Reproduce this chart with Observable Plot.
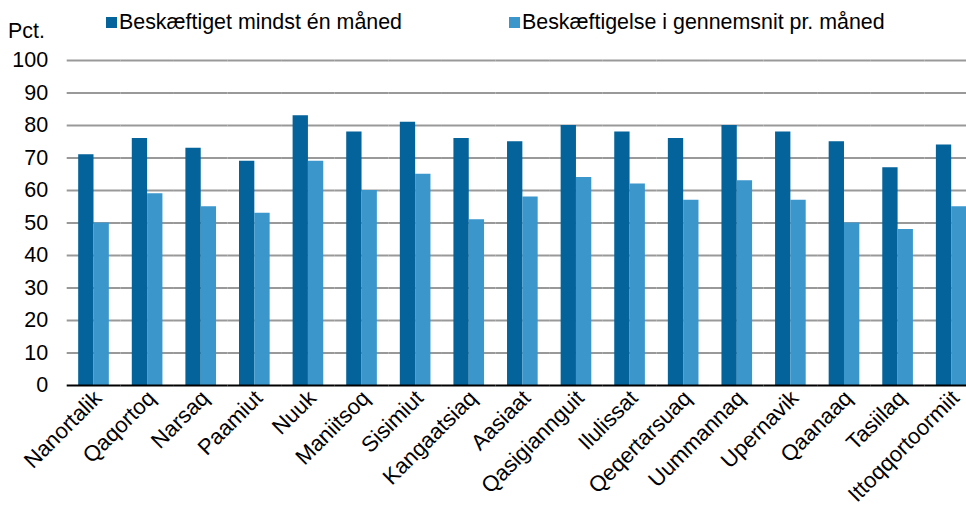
<!DOCTYPE html>
<html>
<head>
<meta charset="utf-8">
<script src="https://cdn.jsdelivr.net/npm/d3@7"></script>
<script src="https://cdn.jsdelivr.net/npm/@observablehq/plot@0.6"></script>
<style>
  html, body { margin: 0; padding: 0; background: #fff; }
  #wrap { position: relative; width: 966px; height: 506px; overflow: hidden; font-family: "Liberation Sans", Arial, sans-serif; }
  #wrap svg { position: absolute; left: 0; top: 0; max-width: none !important; width: 978px; height: 506px; }
  .lbl { position: absolute; font-size: 21.4px; color: #000; white-space: nowrap; line-height: 1; }
  .sw { display: inline-block; width: 11px; height: 11px; margin-right: 2px; vertical-align: 1px; }
</style>
</head>
<body>
<div id="wrap"></div>
<script>
const cities = ["Nanortalik","Qaqortoq","Narsaq","Paamiut","Nuuk","Maniitsoq","Sisimiut","Kangaatsiaq","Aasiaat","Qasigiannguit","Ilulissat","Qeqertarsuaq","Uummannaq","Upernavik","Qaanaaq","Tasiilaq","Ittoqqortoormiit"];
const seriesNames = ["Beskæftiget mindst én måned","Beskæftigelse i gennemsnit pr. måned"];
const mindstEnMaaned = [71,76,73,69,83,78,81,76,75,80,78,76,80,78,75,67,74];
const gennemsnitPrMaaned = [50,59,55,53,69,60,65,51,58,64,62,57,63,57,50,48,55];
const yTicks = [0,10,20,30,40,50,60,70,80,90,100];
const colors = ["#03639a","#3a96cb"];

const data = [];
cities.forEach((c, i) => {
  data.push({city: c, series: seriesNames[0], value: mindstEnMaaned[i]});
  data.push({city: c, series: seriesNames[1], value: gennemsnitPrMaaned[i]});
});

const chart = Plot.plot({
  width: 978,
  height: 506,
  marginTop: 60,
  marginBottom: 121,
  marginLeft: 66.7,
  marginRight: 0,
  style: {fontFamily: "'Liberation Sans', Arial, sans-serif", fontSize: "21px", color: "#000", background: "transparent"},
  fx: {domain: cities, padding: 0, round: false, label: null},
  x: {domain: seriesNames, paddingInner: 0, paddingOuter: 0.75, round: false, axis: null},
  y: {domain: [0, 100], label: null},
  color: {domain: seriesNames, range: colors},
  marks: [
    Plot.ruleY(yTicks.filter(d => d > 0), {stroke: "#999", strokeWidth: 2}),
    Plot.barY(data, {fx: "city", x: "series", y: "value", fill: "series"}),
    Plot.ruleY([0], {stroke: "#000", strokeWidth: 2}),
    Plot.axisY(yTicks, {fontSize: 21.5, tickSize: 0, tickPadding: 19, label: null}),
    Plot.axisFx({anchor: "bottom", fontSize: 22, tickSize: 0, tickPadding: 9, tickRotate: -45, dx: 4, label: null})
  ]
});

const wrap = document.getElementById("wrap");
wrap.appendChild(chart);

const pct = document.createElement("div");
pct.className = "lbl";
pct.style.left = "8px";
pct.style.top = "21px";
pct.textContent = "Pct.";
wrap.appendChild(pct);

const legendX = [106, 509];
seriesNames.forEach((s, i) => {
  const d = document.createElement("div");
  d.className = "lbl";
  d.style.left = legendX[i] + "px";
  d.style.top = "12px";
  const sw = document.createElement("span");
  sw.className = "sw";
  sw.style.background = colors[i];
  d.appendChild(sw);
  d.appendChild(document.createTextNode(s));
  wrap.appendChild(d);
});
</script>
</body>
</html>
